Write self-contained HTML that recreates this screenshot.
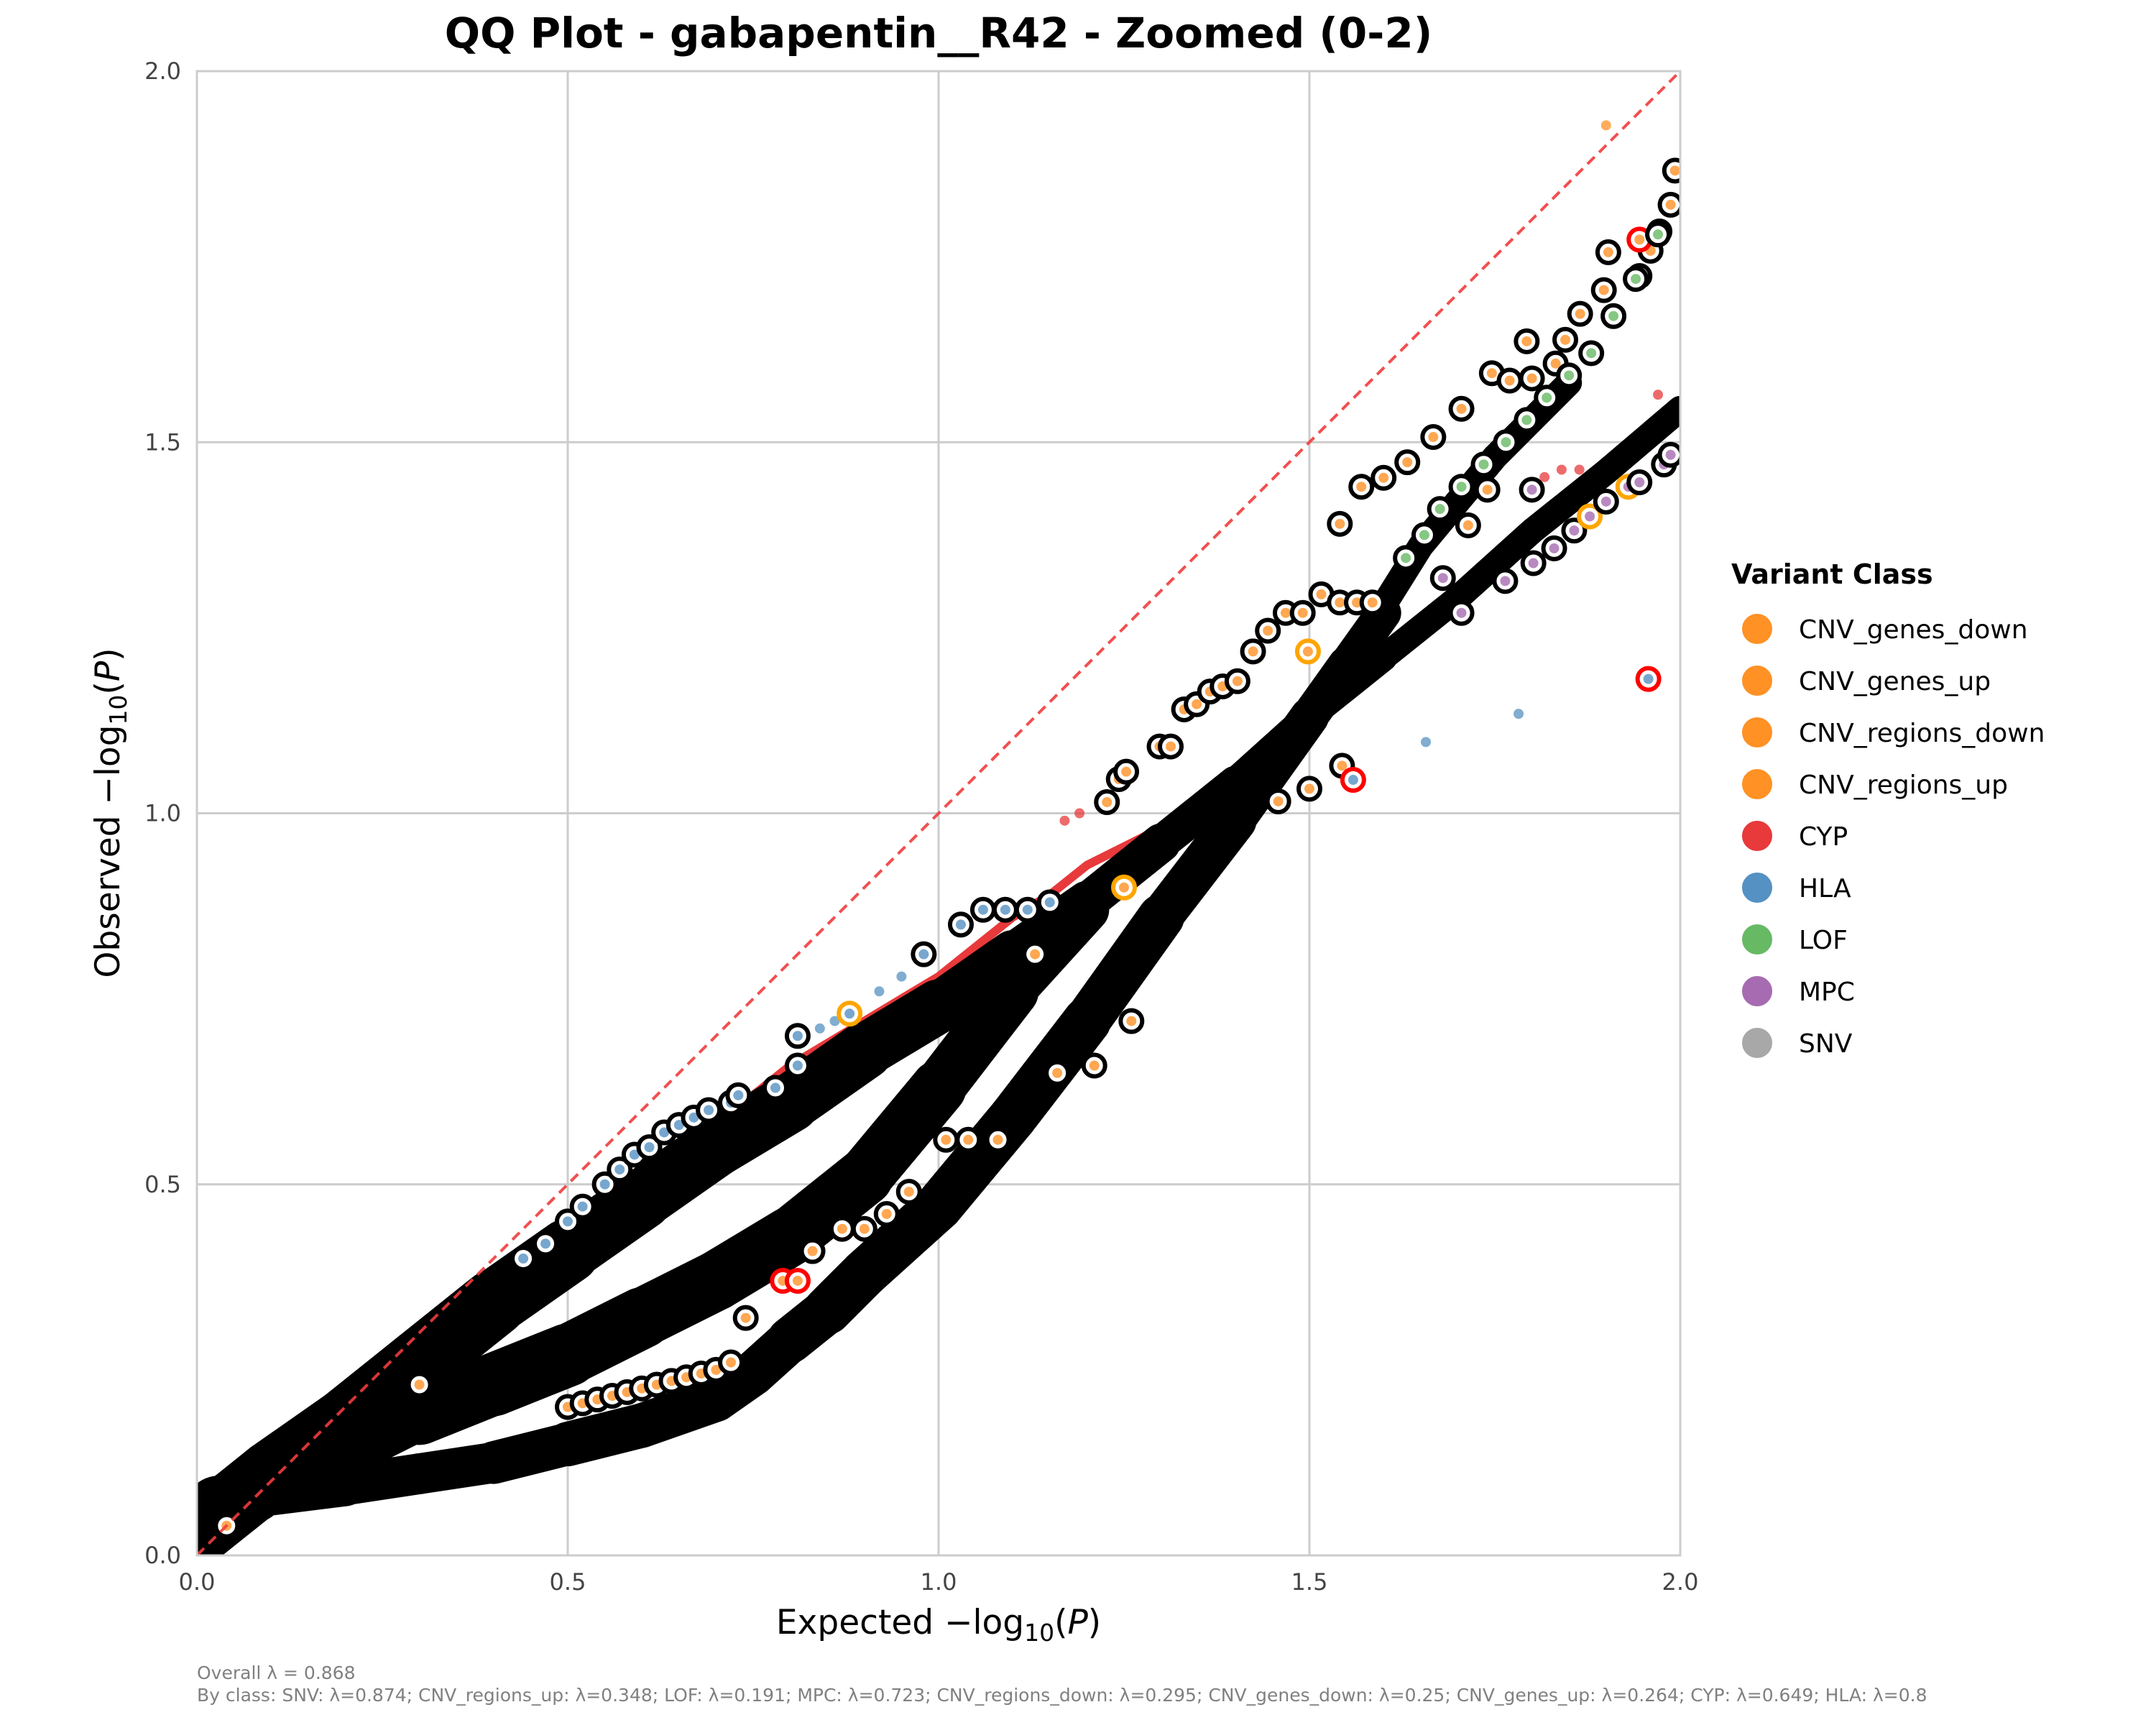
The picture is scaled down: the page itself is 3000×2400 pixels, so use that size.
<!DOCTYPE html>
<html><head><meta charset="utf-8"><style>
html,body{margin:0;padding:0;background:#fff;}
svg{display:block;font-family:"DejaVu Sans","Liberation Sans",sans-serif;}
</style></head><body>
<svg id="chart" width="3000" height="2400" viewBox="0 0 3000 2400" xmlns="http://www.w3.org/2000/svg">
<defs><clipPath id="plotclip"><rect x="274" y="99" width="2064" height="2065"/></clipPath></defs>
<rect width="3000" height="2400" fill="#fff"/>
<text x="1306" y="66" text-anchor="middle" font-size="58" font-weight="bold">QQ Plot - gabapentin__R42 - Zoomed (0-2)</text>
<g id="grid"></g>
<g clip-path="url(#plotclip)">
<g id="bands"></g>
<g id="marks"></g>
</g>
<g id="axes"></g>
<text x="1306" y="2273" text-anchor="middle" font-size="47">Expected −log<tspan font-size="33" dy="10">10</tspan><tspan dy="-10">(</tspan><tspan font-style="italic">P</tspan>)</text>
<text transform="translate(166,1131) rotate(-90)" text-anchor="middle" font-size="47">Observed −log<tspan font-size="33" dy="10">10</tspan><tspan dy="-10">(</tspan><tspan font-style="italic">P</tspan>)</text>
<text x="2409" y="812" font-size="38" font-weight="bold">Variant Class</text>
<g id="legend"></g>
<text x="274" y="2336" font-size="25" fill="#808080">Overall λ = 0.868</text>
<text x="274" y="2367" font-size="25" fill="#808080">By class: SNV: λ=0.874; CNV_regions_up: λ=0.348; LOF: λ=0.191; MPC: λ=0.723; CNV_regions_down: λ=0.295; CNV_genes_down: λ=0.25; CNV_genes_up: λ=0.264; CYP: λ=0.649; HLA: λ=0.8</text>
</svg>
<script>
const xTicks = [0, 0.5, 1.0, 1.5, 2.0];
const yTicks = [0, 0.5, 1.0, 1.5, 2.0];
const tickLabels = ["0.0", "0.5", "1.0", "1.5", "2.0"];
const legendClasses = ["CNV_genes_down","CNV_genes_up","CNV_regions_down","CNV_regions_up","CYP","HLA","LOF","MPC","SNV"];
const legendColors = ["#ff9125","#ff9125","#ff9125","#ff9125","#e8393b","#5591c2","#67b964","#a66bb0","#a8a8a8"];

// dense bands (SNV) : x, observed y, perpendicular thickness
const blobX = [0,0.03,0.07,0.12,0.18,0.24];
const blobY = [0.04,0.06,0.085,0.105,0.13,0.16];
const blobW = [0.1,0.09,0.08,0.08,0.07,0.06];
const bandAX = [0,0.05,0.1,0.2,0.3,0.4,0.5,0.6,0.7,0.8,0.9,1.0,1.1,1.2,1.3,1.4,1.5,1.6,1.7,1.8,1.9,2.0];
const bandAY = [0.03,0.07,0.11,0.18,0.26,0.34,0.41,0.48,0.55,0.61,0.68,0.74,0.81,0.88,0.96,1.04,1.13,1.21,1.29,1.38,1.46,1.545];
const bandAW = [0.09,0.09,0.09,0.09,0.09,0.09,0.085,0.08,0.08,0.08,0.075,0.07,0.06,0.055,0.05,0.045,0.04,0.035,0.035,0.035,0.035,0.035];
const bandBX = [0.22,0.3,0.4,0.5,0.6,0.7,0.8,0.9,1.0,1.1,1.2];
const bandBY = [0.15,0.19,0.23,0.27,0.32,0.37,0.43,0.51,0.63,0.76,0.87];
const bandBW = [0.06,0.08,0.085,0.085,0.08,0.08,0.08,0.075,0.075,0.065,0.055];
const bandCX = [0,0.03,0.08,0.2,0.3,0.4,0.5,0.6,0.7,0.75,0.8,0.85,0.9,1.0,1.1,1.2,1.3,1.4,1.5,1.55,1.6];
const bandCY = [0.03,0.06,0.08,0.095,0.11,0.125,0.15,0.175,0.21,0.245,0.29,0.33,0.38,0.47,0.59,0.72,0.86,0.99,1.13,1.2,1.27];
const bandCW = [0.08,0.08,0.06,0.055,0.055,0.055,0.06,0.06,0.06,0.06,0.06,0.065,0.065,0.065,0.065,0.065,0.06,0.055,0.05,0.05,0.045];
const bandDX = [1.6,1.65,1.7,1.75,1.8,1.85];
const bandDY = [1.28,1.36,1.42,1.48,1.53,1.58];
const bandDW = [0.035,0.035,0.035,0.035,0.035,0.035];
// CYP dense trail
const cypX = [0.45,0.55,0.6,0.7,0.75,0.8,0.9,1.0,1.1,1.15,1.2,1.25,1.3];
const cypY = [0.41,0.47,0.5,0.57,0.62,0.66,0.72,0.78,0.86,0.89,0.93,0.955,0.98];

// ringed points: x, y, ring colour code, fill colour code
const ringX = [0.44,0.47,0.5,0.52,0.55,0.57,0.59,0.61,0.63,0.65,0.67,0.69,0.72,0.73,0.78,0.81,0.81,0.88,0.98,1.03,1.06,1.09,1.12,1.15,
 0.83,0.87,0.9,0.93,0.96,1.01,1.04,1.08,0.79,0.81,0.74,1.16,1.21,1.26,1.25,1.13,
 0.5,0.52,0.54,0.56,0.58,0.6,0.62,0.64,0.66,0.68,0.7,0.72,
 1.227,1.243,1.253,1.298,1.313,1.331,1.348,1.366,1.383,1.403,1.424,1.444,1.468,1.491,1.516,1.541,1.564,1.585,
 1.541,1.57,1.6,1.632,1.667,1.705,1.746,1.77,1.8,1.793,1.832,1.845,1.865,1.897,1.903,1.945,1.96,1.972,1.987,1.993,1.945,
 1.63,1.655,1.676,1.705,1.735,1.765,1.793,1.82,1.85,1.88,1.91,1.94,1.97,
 1.705,1.764,1.802,1.83,1.857,1.878,1.9,1.93,1.945,1.978,1.987,1.8,1.68,1.714,1.74,
 1.544,1.559,1.5,1.458,1.498,1.957,0.3,0.04];
const ringY = [0.40,0.42,0.45,0.47,0.5,0.52,0.54,0.55,0.57,0.58,0.59,0.6,0.61,0.62,0.63,0.66,0.70,0.73,0.81,0.85,0.87,0.87,0.87,0.88,
 0.41,0.44,0.44,0.46,0.49,0.56,0.56,0.56,0.37,0.37,0.32,0.65,0.66,0.72,0.90,0.81,
 0.2,0.205,0.21,0.215,0.22,0.225,0.23,0.235,0.24,0.245,0.25,0.26,
 1.015,1.046,1.056,1.09,1.09,1.14,1.147,1.164,1.171,1.178,1.218,1.246,1.27,1.27,1.295,1.284,1.284,1.284,
 1.39,1.44,1.452,1.473,1.507,1.545,1.593,1.583,1.586,1.636,1.606,1.638,1.673,1.705,1.756,1.724,1.758,1.784,1.82,1.866,1.773,
 1.344,1.375,1.41,1.44,1.47,1.5,1.53,1.56,1.59,1.62,1.67,1.72,1.78,
 1.27,1.313,1.337,1.357,1.381,1.4,1.42,1.44,1.446,1.47,1.483,1.436,1.317,1.388,1.436,
 1.064,1.045,1.033,1.016,1.218,1.181,0.23,0.04];
const ringEdge = "bbbbbbbbbbbbbbbbbobbbbbbbbbbbbbbrrbbbbob"+"bbbbbbbbbbbb"+"bbbbbbbbbbbbbbbbbb"+"bbbbbbbbbbbbbbbbbbbbr"+"bbbbbbbbbbbbb"+"bbbbbobobbbbbbb"+"brbbors";
const ringFill = "hhhhhhhhhhhhhhhhhhhhhhhhooooooooooooooooo"+"ooooooooooo"+"oooooooooooooooooo"+"ooooooooooooooooooooo"+"ggggggggggggg"+"pppppppppppppoo"+"ohoooho";

// small plain dots
const dotX = [1.9,1.97,1.84,1.864,1.817,1.782,1.657,0.86,0.84,0.95,0.92,1.17,1.19];
const dotY = [1.927,1.564,1.463,1.463,1.453,1.134,1.096,0.72,0.71,0.78,0.76,0.99,1.0];
const dotC = "orrrrhhhhhhrr";

const NS = "http://www.w3.org/2000/svg";
const X = v => 274 + v * 1032;
const Y = v => 2164 - v * 1032.5;
const colorOf = {o:"#ff9125",r:"#e8393b",h:"#5591c2",g:"#67b964",p:"#a66bb0",s:"#a8a8a8",b:"#000"};
const edgeOf = {b:"#000",r:"#ff0000",o:"#ffa500",s:"#000"};
function mk(tag, attrs, parent){const e=document.createElementNS(NS,tag);for(const k in attrs)e.setAttribute(k,attrs[k]);parent.appendChild(e);return e;}

const grid = document.getElementById('grid');
xTicks.forEach((t,i)=>{
  const l = mk('line',{x1:X(t),x2:X(t),y1:Y(0),y2:Y(2),stroke:'#cccccc','stroke-width':3},grid);
  
  
});
yTicks.forEach((t,i)=>{
  const l = mk('line',{x1:X(0),x2:X(2),y1:Y(t),y2:Y(t),stroke:'#cccccc','stroke-width':3},grid);
  
  
});

const bands = document.getElementById('bands');
function band(xs, ys, ws, name){
  for(let i=0;i<xs.length-1;i++){
    const s = mk('line',{x1:X(xs[i]),y1:Y(ys[i]),x2:X(xs[i+1]),y2:Y(ys[i+1]),stroke:'#000','stroke-width':(ws[i]+ws[i+1])/2*1032,'stroke-linecap':'round'},bands);
    
    
  }
}
const cyp = mk('polyline',{points:cypX.map((x,i)=>X(x)+','+Y(cypY[i])).join(' '),fill:'none',stroke:'#e8393b','stroke-width':12,'stroke-linejoin':'round','stroke-linecap':'round'},bands);


band(blobX, blobY, blobW, 'origin-cluster');
band(bandAX, bandAY, bandAW, 'snv-upper-band');
band(bandBX, bandBY, bandBW, 'snv-middle-band');
band(bandCX, bandCY, bandCW, 'snv-lower-band');
band(bandDX, bandDY, bandDW, 'lof-band');

const marks = document.getElementById('marks');
dotX.forEach((x,i)=>{
  const c = mk('circle',{cx:X(x),cy:Y(dotY[i]),r:7,fill:colorOf[dotC[i]],'fill-opacity':0.75},marks);
  
  
});
ringX.forEach((x,i)=>{
  const e = ringEdge[i]||'b', f = ringFill[i]||'o';
  const c = mk('circle',{cx:X(x),cy:Y(ringY[i]),r:15,fill:'#fff',stroke:edgeOf[e],'stroke-width':6},marks);
  
  
  const d = mk('circle',{cx:X(x),cy:Y(ringY[i]),r:7,fill:colorOf[f],'fill-opacity':0.8},marks);
  
  
});
const diag = mk('line',{x1:X(0),y1:Y(0),x2:X(2),y2:Y(2),stroke:'#f03c3c','stroke-width':4,'stroke-dasharray':'14 9','stroke-opacity':0.9},marks);



const axes = document.getElementById('axes');
const frame = mk('rect',{x:X(0),y:Y(2),width:X(2)-X(0),height:Y(0)-Y(2),fill:'none',stroke:'#cccccc','stroke-width':3},axes);


xTicks.forEach((t,i)=>{
  const tx = mk('text',{x:X(t),y:2212,'text-anchor':'middle','font-size':32,fill:'#444'},axes);
  tx.textContent = tickLabels[i];
  
  
});
yTicks.forEach((t,i)=>{
  const tx = mk('text',{x:252,y:Y(t)+11,'text-anchor':'end','font-size':32,fill:'#444'},axes);
  tx.textContent = tickLabels[i];
  
  
});

const legend = document.getElementById('legend');
legendClasses.forEach((n,i)=>{
  const y = 875 + i*72;
  const c = mk('circle',{cx:2445,cy:y,r:20,fill:legendColors[i],stroke:legendColors[i],'stroke-width':2},legend);
  
  
  const t = mk('text',{x:2503,y:y+13,'font-size':36},legend);
  t.textContent = n;
  
  
});
</script>
</body></html>
